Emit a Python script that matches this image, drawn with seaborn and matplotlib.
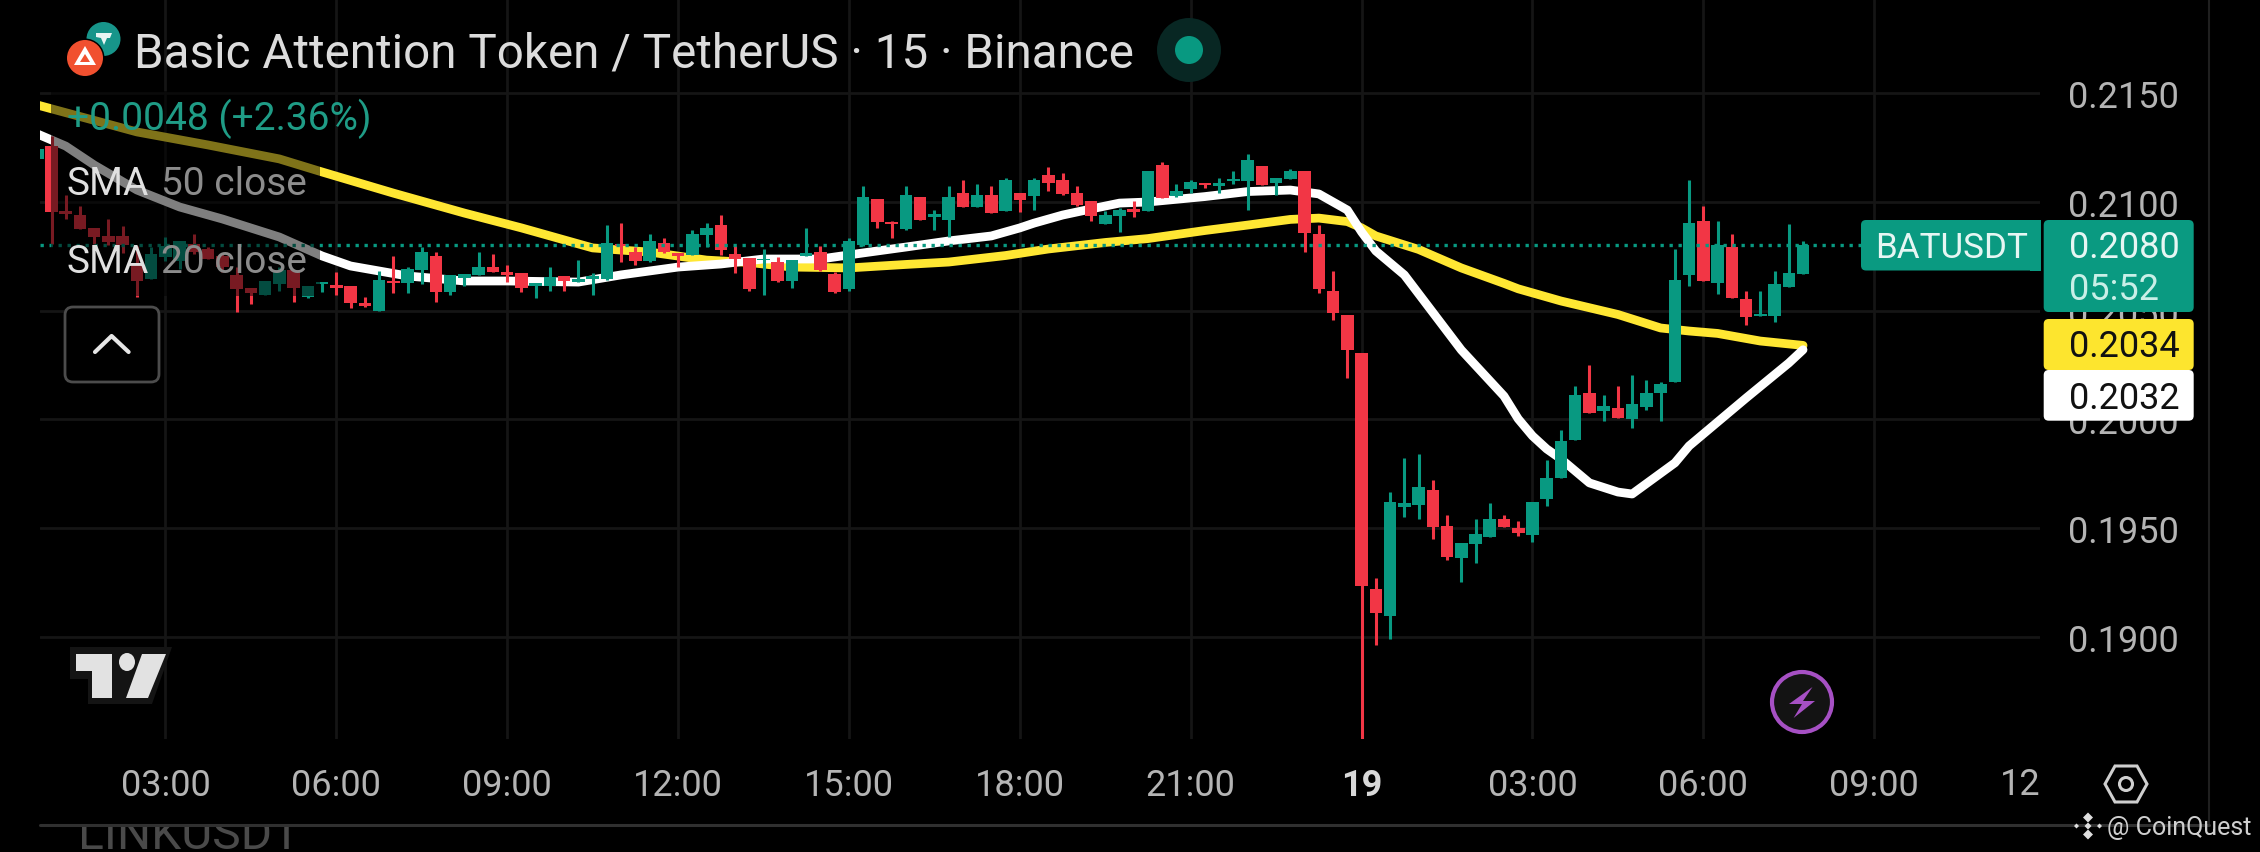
import numpy as np
import pandas as pd
import matplotlib
matplotlib.use("Agg")
import matplotlib.pyplot as plt
from matplotlib.patches import Rectangle, FancyBboxPatch, Circle, Polygon, Ellipse
import seaborn as sns

# ---- data (15-minute candles, index 0 = first full candle; 92 = midnight of the 19th) ----
opens = [0.21197,
 0.21256,0.20958,0.20939,0.20880,0.20843,0.20843,0.20714,0.20645,0.20746,0.20728,
 0.20806,0.20783,0.20751,0.20664,0.20604,0.20572,0.20622,0.20686,0.20562,0.20624,
 0.20618,0.20613,0.20535,0.20498,0.20636,0.20627,0.20686,0.20751,0.20585,0.20650,
 0.20664,0.20700,0.20677,0.20673,0.20613,0.20613,0.20659,0.20631,0.20645,0.20645,
 0.20804,0.20769,0.20728,0.20811,0.20765,0.20755,0.20847,0.20893,0.20760,0.20742,
 0.20732,0.20723,0.20636,0.20751,0.20769,0.20668,0.20599,0.20801,0.21013,0.20907,
 0.20875,0.21022,0.20930,0.20916,0.21040,0.20976,0.21031,0.20958,0.21040,0.21027,
 0.21123,0.21100,0.21040,0.21004,0.20898,0.20935,0.20967,0.20958,0.21169,0.21027,
 0.21059,0.21086,0.21073,0.21096,0.21096,0.21164,0.21086,0.21105,0.21142,0.20852,
 0.20590,0.20480,0.20307,0.19220,0.19096,0.19597,0.19606,0.19677,0.19510,0.19361,
 0.19427,0.19459,0.19542,0.19501,0.19469,0.19632,0.19730,0.19907,0.20121,0.20039,
 0.20052,0.20002,0.20059,0.20121,0.20170,0.20664,0.20912,0.20627,0.20792,0.20553,
 0.20475,0.20477,0.20608,0.20668]
highs = [0.21252,
 0.21302,0.21031,0.20981,0.20880,0.20921,0.20889,0.20797,0.20792,0.20838,0.20820,
 0.20852,0.20792,0.20760,0.20700,0.20604,0.20636,0.20700,0.20686,0.20613,0.20631,
 0.20677,0.20613,0.20562,0.20682,0.20751,0.20700,0.20792,0.20769,0.20664,0.20668,
 0.20769,0.20760,0.20710,0.20673,0.20627,0.20700,0.20659,0.20732,0.20673,0.20893,
 0.20902,0.20792,0.20852,0.20834,0.20765,0.20870,0.20902,0.20939,0.20797,0.20742,
 0.20783,0.20746,0.20732,0.20880,0.20797,0.20677,0.20834,0.21073,0.21013,0.20912,
 0.21073,0.21022,0.20962,0.21073,0.21100,0.21082,0.21073,0.21109,0.21040,0.21109,
 0.21160,0.21132,0.21073,0.21004,0.20958,0.20971,0.21004,0.21142,0.21183,0.21082,
 0.21100,0.21086,0.21109,0.21142,0.21220,0.21164,0.21109,0.21151,0.21142,0.20893,
 0.20680,0.20480,0.20307,0.19271,0.19668,0.19822,0.19841,0.19721,0.19560,0.19432,
 0.19542,0.19617,0.19560,0.19533,0.19620,0.19813,0.19951,0.20153,0.20250,0.20112,
 0.20153,0.20202,0.20179,0.20172,0.20783,0.21100,0.20981,0.20912,0.20852,0.20590,
 0.20590,0.20680,0.20900,0.20820]
lows = [0.21192,
 0.20806,0.20921,0.20875,0.20806,0.20801,0.20765,0.20562,0.20645,0.20728,0.20691,
 0.20760,0.20737,0.20677,0.20494,0.20530,0.20572,0.20590,0.20539,0.20558,0.20585,
 0.20572,0.20512,0.20516,0.20498,0.20581,0.20581,0.20622,0.20539,0.20572,0.20613,
 0.20664,0.20677,0.20631,0.20585,0.20558,0.20590,0.20590,0.20631,0.20572,0.20641,
 0.20723,0.20709,0.20723,0.20765,0.20700,0.20755,0.20792,0.20755,0.20673,0.20590,
 0.20572,0.20631,0.20604,0.20751,0.20682,0.20581,0.20590,0.20797,0.20880,0.20834,
 0.20870,0.20916,0.20870,0.20838,0.20976,0.20976,0.20948,0.20958,0.20953,0.20962,
 0.21050,0.21031,0.20981,0.20912,0.20898,0.20861,0.20930,0.20958,0.21017,0.21024,
 0.21040,0.21063,0.21040,0.21082,0.20960,0.21077,0.21031,0.21105,0.20769,0.20581,
 0.20457,0.20190,0.18531,0.18963,0.18991,0.19551,0.19542,0.19450,0.19354,0.19252,
 0.19340,0.19459,0.19505,0.19466,0.19436,0.19602,0.19730,0.19907,0.20031,0.19993,
 0.20006,0.19962,0.20043,0.19994,0.20170,0.20615,0.20636,0.20576,0.20560,0.20434,
 0.20475,0.20447,0.20608,0.20666]
closes = [0.21242,
 0.20953,0.20944,0.20875,0.20838,0.20815,0.20801,0.20636,0.20760,0.20797,0.20820,
 0.20769,0.20737,0.20700,0.20599,0.20581,0.20636,0.20686,0.20604,0.20613,0.20631,
 0.20604,0.20535,0.20521,0.20641,0.20627,0.20691,0.20769,0.20585,0.20664,0.20668,
 0.20700,0.20677,0.20664,0.20604,0.20627,0.20655,0.20636,0.20645,0.20659,0.20811,
 0.20797,0.20728,0.20820,0.20769,0.20751,0.20852,0.20880,0.20778,0.20737,0.20599,
 0.20732,0.20636,0.20732,0.20765,0.20686,0.20585,0.20820,0.21022,0.20907,0.20898,
 0.21031,0.20916,0.20944,0.21022,0.20976,0.21031,0.20948,0.21100,0.21008,0.21100,
 0.21086,0.21036,0.20985,0.20935,0.20939,0.20962,0.20953,0.21142,0.21017,0.21050,
 0.21091,0.21077,0.21086,0.21105,0.21192,0.21077,0.21109,0.21142,0.20857,0.20599,
 0.20489,0.20319,0.19234,0.19110,0.19620,0.19617,0.19691,0.19505,0.19367,0.19432,
 0.19473,0.19542,0.19505,0.19478,0.19620,0.19730,0.19900,0.20112,0.20031,0.20061,
 0.20006,0.20071,0.20121,0.20164,0.20641,0.20902,0.20636,0.20803,0.20560,0.20470,
 0.20484,0.20622,0.20673,0.20803]

sma50_bar = [-1,6,11,16,19,24,29,33,38,40,42,46,49,52,56,60,63,67,70,74,77,81,84,87,89,91,92,93,96,99,102,103,106,110,113,115,117,120,123]
sma50_val = [0.21445,0.21321,0.21261,0.21197,0.21137,0.21040,0.20948,0.20880,0.20788,0.20778,0.20769,0.20732,0.20721,0.20700,0.20696,0.20712,0.20723,0.20753,0.20783,0.20813,0.20831,0.20868,0.20893,0.20919,0.20925,0.20909,0.20880,0.20843,0.20781,0.20696,0.20625,0.20600,0.20544,0.20482,0.20420,0.20406,0.20395,0.20360,0.20340]
sma20_bar = [-1,1,3,6,9,12,16,19,21,25,29,32,37,40,44,47,50,54,57,60,63,66,68,69,71,73,75,77,81,84,87,89,91,92,93,95,99,102,103,104,105,106,108,110,111,114,115,119,122,123]
sma20_val = [0.21312,0.21256,0.21169,0.21054,0.20976,0.20921,0.20838,0.20751,0.20705,0.20659,0.20636,0.20636,0.20631,0.20664,0.20700,0.20714,0.20737,0.20737,0.20765,0.20792,0.20820,0.20843,0.20880,0.20902,0.20939,0.20967,0.20994,0.20999,0.21024,0.21047,0.21054,0.21036,0.20962,0.20861,0.20774,0.20664,0.20319,0.20107,0.20002,0.19924,0.19864,0.19818,0.19708,0.19666,0.19657,0.19800,0.19878,0.20098,0.20259,0.20320]

price_ticks = [0.2150,0.2100,0.2050,0.2000,0.1950,0.1900]
time_bars = [8,20,32,44,56,68,80,92,104,116,128]
time_labels = ["03:00","06:00","09:00","12:00","15:00","18:00","21:00","19","03:00","06:00","09:00"]
last_price = 0.2080
title = "Basic Attention Token / TetherUS · 15 · Binance"
change = "+0.0048 (+2.36%)"

GREEN = "#089981"
RED = "#F23645"
YELLOW = "#FFE733"
GRID = "#151515"
AXTXT = "#b4b4b4"

sns.set_theme(style="dark")
plt.rcParams['font.family'] = ['Roboto', 'DejaVu Sans']
plt.rcParams['axes.unicode_minus'] = False

W, H = 2260, 853
fig = plt.figure(figsize=(W/100, H/100), dpi=100, facecolor="black")
ax = fig.add_axes([40/W, (H-740)/H, 2000/W, 740/H], facecolor="black")

bars = np.arange(-1, len(opens)-1)
o, h, l, c = map(np.array, (opens, highs, lows, closes))
up = c >= o
cols = np.where(up, GREEN, RED)

# moving averages under the candles
sma50 = pd.DataFrame({"bar": sma50_bar, "price": sma50_val})
sma20 = pd.DataFrame({"bar": sma20_bar, "price": sma20_val})
sns.lineplot(data=sma50, x="bar", y="price", color=YELLOW, lw=6.3, ax=ax, zorder=3,
             estimator=None, sort=False, solid_joinstyle="round", solid_capstyle="round")
sns.lineplot(data=sma20, x="bar", y="price", color="white", lw=6.3, ax=ax, zorder=3,
             estimator=None, sort=False, solid_joinstyle="round", solid_capstyle="round")

ax.vlines(bars, l, h, colors=cols, lw=2.2, zorder=4)
ax.bar(bars, np.maximum(np.abs(c-o), 0.00004), bottom=np.minimum(o, c), width=0.88,
       color=cols, linewidth=0, zorder=5)
ax.axhline(last_price, color=GREEN, lw=2.4, linestyle=(0, (1.0, 1.7)), zorder=6)

ax.set_xlim(-0.808, 139.64)
ax.set_ylim(0.18531, 0.21932)
ax.set_xticks(time_bars)
ax.set_xticklabels(time_labels)
ax.set_yticks(price_ticks)
ax.set_yticklabels([f"{p:.4f}" for p in price_ticks])
ax.yaxis.tick_right()
ax.set_xlabel("")
ax.set_ylabel("")
ax.grid(True, color=GRID, lw=2.0, zorder=0)
ax.set_axisbelow(True)
ax.tick_params(axis="y", length=0, pad=20.5, labelsize=26, labelcolor=AXTXT)
ax.tick_params(axis="x", length=0, pad=20, labelsize=26, labelcolor=AXTXT)
for s in ax.spines.values():
    s.set_visible(False)
for lab in ax.get_xticklabels():
    if lab.get_text() == "19":
        lab.set_fontweight("bold")
        lab.set_color("#d8d8d8")

# ---- screen furniture, in pixel coordinates ----
ov = fig.add_axes([0, 0, 1, 1], zorder=10)
ov.set_xlim(0, W)
ov.set_ylim(H, 0)
ov.axis("off")
ov.patch.set_alpha(0)

ov.add_patch(Rectangle((51, 92), 269, 205, color="black", alpha=0.5, lw=0, zorder=1))
ov.plot([2209, 2209], [0, 826], color="#1f1f1f", lw=1.5, zorder=1)
ov.plot([40, 2209], [826, 826], color="#303030", lw=2.2, zorder=1)

# coin icons
ov.add_patch(Circle((103.5, 40), 17, color="#17958a", lw=0, zorder=2))
ov.add_patch(Polygon([(96, 34), (112, 34), (110, 39), (107, 39), (104, 46), (101, 39), (96, 38)],
                     color="#e8f5f3", lw=0, zorder=3))
ov.add_patch(Circle((85, 59), 19.5, color="black", lw=0, zorder=4))
ov.add_patch(Circle((85, 59), 18, color="#F1502F", lw=0, zorder=5))
ov.add_patch(Polygon([(85, 47), (96, 66), (74, 66)], facecolor="white", lw=0, zorder=6))
ov.add_patch(Polygon([(85, 55), (90, 63), (80, 63)], facecolor="#F1502F", lw=0, zorder=7))

ov.text(134, 54, title, color="#dcdcdc", fontsize=34.3, va="center", ha="left", zorder=5)
ov.add_patch(Circle((1189, 51), 32, color="#082723", lw=0, zorder=2))
ov.add_patch(Circle((1189, 51), 14, color=GREEN, lw=0, zorder=3))

ov.text(67, 119, change, color="#1f9c86", fontsize=28, va="center", ha="left", zorder=5)
ov.text(67, 184, "SMA", color="#e0e0e0", fontsize=28, va="center", ha="left", zorder=5)
ov.text(161, 184, "50 close", color="#8c8c8c", fontsize=28, va="center", ha="left", zorder=5)
ov.text(67, 262, "SMA", color="#e0e0e0", fontsize=28, va="center", ha="left", zorder=5)
ov.text(161, 262, "20 close", color="#8c8c8c", fontsize=28, va="center", ha="left", zorder=5)

# collapse button
ov.add_patch(FancyBboxPatch((65, 308), 94, 75, boxstyle="round,pad=0,rounding_size=8",
                            facecolor="black", edgecolor="#4c4c4c", lw=2, zorder=2))
ov.plot([95, 111.6, 128.6], [353, 337, 353], color="#e6e6e6", lw=3, zorder=3, solid_capstyle="round")

# TradingView logo
ov.add_patch(Polygon([(70, 648), (172, 648), (152, 705), (88, 705), (88, 680), (70, 680)],
                     color="#141414", lw=0, zorder=2))
ov.add_patch(Polygon([(76, 655), (112, 655), (112, 699), (91.5, 699), (91.5, 672), (76, 672)],
                     color="#e2e2e2", lw=0, zorder=3))
ov.add_patch(Ellipse((127, 663), 16, 18, color="#e2e2e2", lw=0, zorder=3))
ov.add_patch(Polygon([(142, 655), (166, 655), (148, 699), (126, 699)], color="#e2e2e2", lw=0, zorder=3))

# purple bolt
ov.add_patch(Circle((1802, 703), 30, facecolor="#131313", edgecolor="#A650C4", lw=3, zorder=2))
ov.add_patch(Polygon([(1812.5, 688), (1789, 705), (1802, 705), (1793.6, 719), (1815, 702), (1803, 702)],
                     color="#A650C4", lw=0, zorder=3))

# price tags
ov.add_patch(FancyBboxPatch((1861, 221), 180, 50.5, boxstyle="round,pad=0,rounding_size=5",
                            facecolor="#0a9a81", edgecolor="none", zorder=3))
ov.add_patch(Rectangle((2030, 221), 11, 50.5, color="#0a9a81", lw=0, zorder=3))
ov.text(1875, 248, "BATUSDT", color="#e6f6f3", fontsize=25.2, va="center", ha="left", zorder=5)
ov.add_patch(FancyBboxPatch((2043.7, 221), 150, 92, boxstyle="round,pad=0,rounding_size=5",
                            facecolor="#0a9a81", edgecolor="none", zorder=3))
ov.text(2069, 248, f"{last_price:.4f}", color="#e6f6f3", fontsize=26, va="center", ha="left", zorder=5)
ov.text(2069, 290, "05:52", color="#c9efe7", fontsize=26, va="center", ha="left", zorder=5)
ov.add_patch(FancyBboxPatch((2043.7, 320), 150, 51, boxstyle="round,pad=0,rounding_size=5",
                            facecolor="#FDE52E", edgecolor="none", zorder=3))
ov.text(2069, 347, f"{sma50_val[-1]:.4f}", color="#111111", fontsize=26, va="center", ha="left", zorder=5)
ov.add_patch(FancyBboxPatch((2043.7, 371), 150, 50.7, boxstyle="round,pad=0,rounding_size=5",
                            facecolor="white", edgecolor="none", zorder=4))
ov.text(2069, 399, f"{sma20_val[-1]:.4f}", color="#111111", fontsize=26, va="center", ha="left", zorder=5)

# truncated time label and settings hexagon
ov.text(2020, 785, "12", color=AXTXT, fontsize=26, va="center", ha="center", zorder=5)
ov.add_patch(Polygon([(2105, 785), (2115, 767), (2137, 767), (2147, 785), (2137, 803), (2115, 803)],
                     closed=True, fill=False, edgecolor="#cfcfcf", lw=2.2, zorder=5))
ov.add_patch(Circle((2126, 785), 6.5, fill=False, edgecolor="#cfcfcf", lw=2.2, zorder=5))

# list row peeking in below the chart
t = ov.text(78, 849, "LINKUSDT", color="#4a4a4a", fontsize=34.5, va="baseline", ha="left", zorder=1)
t.set_clip_on(True)
t.set_clip_path(Rectangle((0, 828), W, 25, transform=ov.transData))

# watermark
for (dx, dy, r) in [(0, 0, 3.5), (-11.5, 0, 2.5), (11.5, 0, 2.5), (0, -8.5, 5), (0, 8.5, 5)]:
    ov.add_patch(Polygon([(2088+dx-r, 827+dy), (2088+dx, 827+dy-r), (2088+dx+r, 827+dy), (2088+dx, 827+dy+r)],
                         color="#dedede", lw=0, zorder=6))
ov.text(2107, 828, "@ CoinQuest", color="#cfcfcf", fontsize=18, va="center", ha="left", zorder=6)

fig.savefig("out.png", dpi=100, facecolor="black")
